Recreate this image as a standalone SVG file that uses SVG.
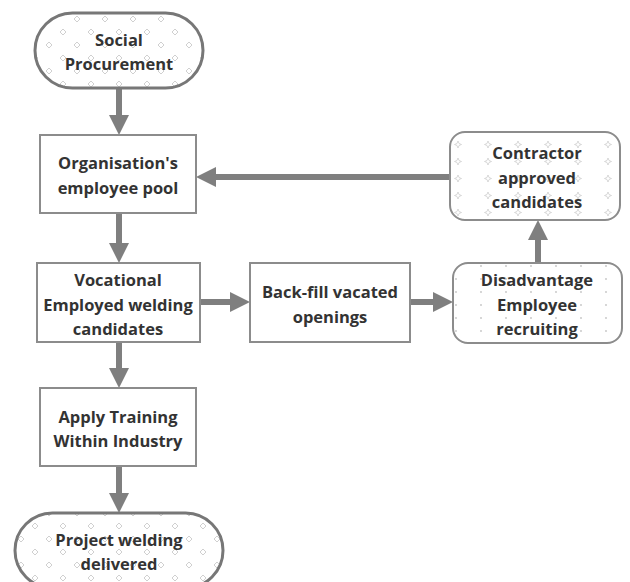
<svg xmlns="http://www.w3.org/2000/svg" width="630" height="582" viewBox="0 0 630 582">
<style>
.t{font-family:"Open Sans","Noto Sans","Liberation Sans",sans-serif;font-weight:bold;font-size:16.5px;fill:#333;text-anchor:middle}
.box{fill:#fff;stroke:#8c8c8c;stroke-width:2}
.stad{stroke:#777;stroke-width:3}
.rbox{stroke:#8c8c8c;stroke-width:2}
.conn{stroke:#7f7f7f;stroke-width:6;fill:none}
</style>
<defs>
<marker id="ah" viewBox="0 0 20 20" markerWidth="20" markerHeight="20" refX="10" refY="10" orient="auto" markerUnits="userSpaceOnUse">
<path d="M0,0 L20,10 L0,20 z" fill="#7f7f7f"/>
</marker>
<pattern id="pDiam" width="28" height="26" patternUnits="userSpaceOnUse">
<rect width="28" height="26" fill="#fff"/>
<path d="M7,3 L10,6 L7,9 L4,6 z M21,16 L24,19 L21,22 L18,19 z" fill="none" stroke="#c4c4c4" stroke-width="0.8"/>
</pattern>
<pattern id="pStar" width="30" height="17" patternUnits="userSpaceOnUse">
<rect width="30" height="17" fill="#fff"/>
<path d="M8,5 L9,7.5 L11.5,8.5 L9,9.5 L8,12 L7,9.5 L4.5,8.5 L7,7.5 z" fill="none" stroke="#c8c8c8" stroke-width="0.7"/>
</pattern>
<pattern id="pDot" width="25" height="13" patternUnits="userSpaceOnUse">
<rect width="25" height="13" fill="#fff"/>
<circle cx="6" cy="6" r="0.9" fill="#c4c4c4"/>
</pattern>
</defs>

<g id="connectors">
<line class="conn" x1="119" y1="88" x2="119" y2="125" marker-end="url(#ah)"/>
<line class="conn" x1="119" y1="213" x2="119" y2="253" marker-end="url(#ah)"/>
<line class="conn" x1="200" y1="302" x2="240" y2="302" marker-end="url(#ah)"/>
<line class="conn" x1="410" y1="302" x2="443" y2="302" marker-end="url(#ah)"/>
<line class="conn" x1="538" y1="263" x2="538" y2="230" marker-end="url(#ah)"/>
<line class="conn" x1="450" y1="177" x2="206" y2="177" marker-end="url(#ah)"/>
<line class="conn" x1="119" y1="342" x2="119" y2="378" marker-end="url(#ah)"/>
<line class="conn" x1="119" y1="466" x2="119" y2="503" marker-end="url(#ah)"/>
</g>

<g id="social-procurement">
<rect class="stad" x="35" y="13" width="168" height="75" rx="37.5" fill="url(#pDiam)"/>
<text class="t" x="119" y="46">Social</text>
<text class="t" x="119" y="70">Procurement</text>
</g>

<g id="employee-pool">
<rect class="box" x="40" y="135" width="156" height="78"/>
<text class="t" x="118" y="169">Organisation's</text>
<text class="t" x="118" y="194">employee pool</text>
</g>

<g id="vocational">
<rect class="box" x="37" y="263" width="163" height="79"/>
<text class="t" x="118" y="286">Vocational</text>
<text class="t" x="118" y="311">Employed welding</text>
<text class="t" x="118" y="335">candidates</text>
</g>

<g id="back-fill">
<rect class="box" x="250" y="263" width="160" height="79"/>
<text class="t" x="330" y="298">Back-fill vacated</text>
<text class="t" x="330" y="323">openings</text>
</g>

<g id="disadvantage">
<rect class="rbox" x="453" y="263" width="169" height="80" rx="15" fill="url(#pDot)"/>
<text class="t" x="537" y="286">Disadvantage</text>
<text class="t" x="537" y="311">Employee</text>
<text class="t" x="537" y="335">recruiting</text>
</g>

<g id="contractor">
<rect class="rbox" x="450" y="132" width="170" height="88" rx="15" fill="url(#pStar)"/>
<text class="t" x="537" y="159">Contractor</text>
<text class="t" x="537" y="184">approved</text>
<text class="t" x="537" y="208">candidates</text>
</g>

<g id="training">
<rect class="box" x="40" y="388" width="156" height="78"/>
<text class="t" x="118" y="423">Apply Training</text>
<text class="t" x="118" y="447">Within Industry</text>
</g>

<g id="project-delivered">
<rect class="stad" x="15" y="513" width="208" height="75" rx="37.5" fill="url(#pDiam)"/>
<text class="t" x="119" y="546">Project welding</text>
<text class="t" x="119" y="570">delivered</text>
</g>
</svg>
